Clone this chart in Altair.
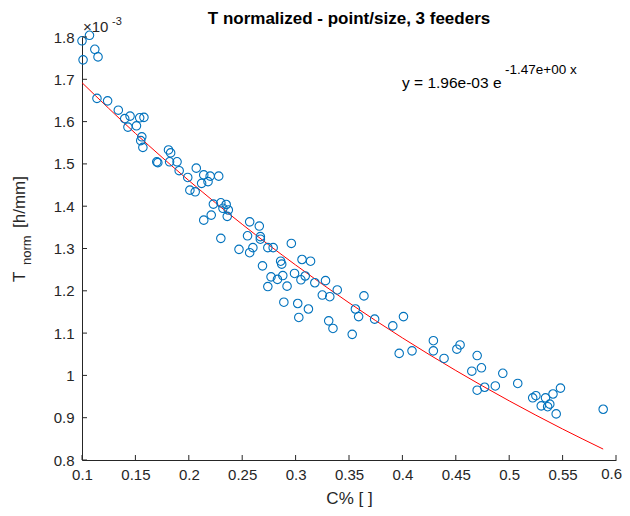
import altair as alt
import pandas as pd

# ---- data (T_norm in units of 1e-3 h/mm) ----
c_pct = [0.100, 0.107, 0.101, 0.112, 0.115, 0.114, 0.124, 0.134, 0.140, 0.145,
         0.143, 0.151, 0.154, 0.158, 0.156, 0.155, 0.157, 0.170, 0.171, 0.181,
         0.183, 0.182, 0.189, 0.191, 0.207, 0.199, 0.214, 0.220, 0.228, 0.218,
         0.212, 0.201, 0.206, 0.223, 0.230, 0.235, 0.232, 0.237, 0.236, 0.221,
         0.214, 0.230, 0.257, 0.266, 0.255, 0.267, 0.267, 0.296, 0.247, 0.260,
         0.257, 0.274, 0.279, 0.306, 0.314, 0.286, 0.287, 0.269, 0.277, 0.283,
         0.288, 0.299, 0.309, 0.305, 0.274, 0.292, 0.318, 0.328, 0.339, 0.325,
         0.332, 0.364, 0.289, 0.302, 0.312, 0.303, 0.356, 0.331, 0.335, 0.353,
         0.359, 0.374, 0.391, 0.401, 0.397, 0.409, 0.429, 0.429, 0.439, 0.451,
         0.454, 0.470, 0.465, 0.474, 0.494, 0.508, 0.470, 0.477, 0.487, 0.522,
         0.525, 0.534, 0.541, 0.548, 0.530, 0.536, 0.538, 0.544, 0.588]
t_norm = [1.791, 1.804, 1.746, 1.771, 1.753, 1.655, 1.649, 1.627, 1.607, 1.613,
          1.587, 1.590, 1.609, 1.610, 1.564, 1.555, 1.539, 1.505, 1.503, 1.533,
          1.526, 1.505, 1.505, 1.484, 1.490, 1.468, 1.474, 1.471, 1.471, 1.458,
          1.454, 1.438, 1.434, 1.405, 1.408, 1.404, 1.395, 1.391, 1.376, 1.379,
          1.367, 1.324, 1.363, 1.353, 1.330, 1.328, 1.322, 1.312, 1.298, 1.302,
          1.290, 1.302, 1.302, 1.274, 1.270, 1.270, 1.263, 1.259, 1.233, 1.227,
          1.236, 1.241, 1.235, 1.226, 1.210, 1.211, 1.219, 1.224, 1.202, 1.190,
          1.186, 1.188, 1.173, 1.170, 1.157, 1.137, 1.157, 1.129, 1.111, 1.097,
          1.139, 1.133, 1.117, 1.139, 1.052, 1.058, 1.082, 1.058, 1.040, 1.062,
          1.072, 1.047, 1.010, 1.018, 1.005, 0.981, 0.965, 0.972, 0.975, 0.947,
          0.952, 0.947, 0.956, 0.970, 0.928, 0.926, 0.932, 0.909, 0.920]

# fitted model shown on the chart: y = 1.96e-03 e^(-1.47 x)
fit_a = 1.96      # x 1e-3
fit_b = -1.47
fit_x = [0.100, 0.150, 0.200, 0.250, 0.300, 0.350, 0.400, 0.450, 0.500, 0.550, 0.588]

x_ticks = [0.1, 0.15, 0.2, 0.25, 0.3, 0.35, 0.4, 0.45, 0.5, 0.55, 0.6]
y_ticks = [0.8, 0.9, 1.0, 1.1, 1.2, 1.3, 1.4, 1.5, 1.6, 1.7, 1.8]
x_last = 0.6

title_text = "T normalized - point/size, 3 feeders"
x_title = "C% [ ]"
eq_main = "y = 1.96e-03 e"
eq_sup = "-1.47e+00 x"

FONT = "Liberation Sans"
INK = "#262626"
W, H = 534, 423

pts = pd.DataFrame({"c": c_pct, "t": t_norm})
fit = pd.DataFrame({"c": fit_x})
xt = pd.DataFrame({"v": x_ticks})
yt = pd.DataFrame({"v": y_ticks})

xs = alt.Scale(domain=[0.1, 0.6], nice=False, zero=False)
ys = alt.Scale(domain=[0.8, 1.8], nice=False, zero=False)

xaxis = alt.Axis(values=x_ticks, format="~g", ticks=False, grid=False,
                 labelExpr=f"datum.value == {x_last} ? '' : datum.label",
                 labelFont=FONT, labelFontSize=15, labelColor=INK,
                 labelPadding=7, labelFlush=False, labelOverlap=False,
                 domainColor=INK, domainWidth=1,
                 title=x_title, titleFont=FONT, titleFontSize=17,
                 titleFontWeight="normal", titleColor=INK, titlePadding=8)
yaxis = alt.Axis(values=y_ticks, format="~g", ticks=False, grid=False,
                 labelFont=FONT, labelFontSize=15, labelColor=INK,
                 labelPadding=8, labelFlush=False, labelOverlap=False,
                 domainColor=INK, domainWidth=1, title=None)

points = alt.Chart(pts).mark_point(
    shape="circle", filled=False, size=72, stroke="#0072BD",
    strokeWidth=1.1, opacity=1
).encode(
    x=alt.X("c:Q", scale=xs, axis=xaxis),
    y=alt.Y("t:Q", scale=ys, axis=yaxis),
)

line = alt.Chart(fit).transform_calculate(
    t=f"{fit_a} * exp({fit_b} * datum.c)"
).mark_line(color="#FF0000", strokeWidth=1, interpolate="monotone").encode(
    x=alt.X("c:Q", scale=xs),
    y=alt.Y("t:Q", scale=ys),
)

xtick = alt.Chart(xt).mark_rule(color=INK, strokeWidth=1).encode(
    x=alt.X("v:Q", scale=xs), y=alt.value(H), y2=alt.value(H - 5))
ytick = alt.Chart(yt).mark_rule(color=INK, strokeWidth=1).encode(
    y=alt.Y("v:Q", scale=ys), x=alt.value(0), x2=alt.value(5))

# last x tick label, kept inside the page edge
last_lab = alt.Chart(pd.DataFrame({"v": [x_last], "s": ["0.6"]})).mark_text(
    font=FONT, fontSize=15, color=INK, align="right", baseline="top", dx=6, dy=7
).encode(x=alt.X("v:Q", scale=xs), y=alt.value(H), text="s:N")

def label(text, px, py, size, **kw):
    # px, py: page pixel position; converted to plot-area origin (82, 37)
    return alt.Chart(pd.DataFrame({"s": [text]})).mark_text(
        font=FONT, fontSize=size, color=kw.pop("color", INK),
        align=kw.pop("align", "left"), baseline=kw.pop("baseline", "alphabetic"),
        **kw
    ).encode(text="s:N", x=alt.value(px - 82), y=alt.value(py - 37))

annots = [
    label(title_text, 349, 24, 17, align="center", fontWeight="bold", color="black"),
    label("×10", 83, 32, 15),
    label("-3", 112, 25, 11),
    label(eq_main, 402, 88, 15.5, color="black"),
    label(eq_sup, 505, 74, 13.5, color="black"),
    label("T", 25, 282, 17, angle=270),
    label("norm", 31, 265, 13, angle=270),
    label("[h/mm]", 25, 228, 17, angle=270),
]

chart = alt.layer(line, points, xtick, ytick, last_lab, *annots).properties(
    width=W, height=H,
    autosize=alt.AutoSizeParams(type="none"),
    padding={"left": 74, "top": 29, "right": 6, "bottom": 48},
).configure_view(strokeWidth=0)

chart.save("out.html", embed_options={"renderer": "svg", "actions": False})
